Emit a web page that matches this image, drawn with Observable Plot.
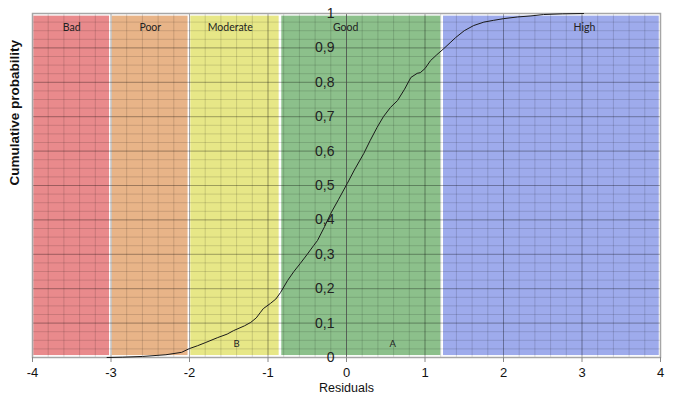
<!DOCTYPE html>
<html>
<head>
<meta charset="utf-8">
<script src="https://cdn.jsdelivr.net/npm/d3@7"></script>
<script src="https://cdn.jsdelivr.net/npm/@observablehq/plot@0.6"></script>
<style>
  html, body { margin: 0; padding: 0; background: #fff; }
</style>
</head>
<body>
<div id="chart"></div>
<script>
// Quality classes (residual intervals)
const bandNames  = ["Bad", "Poor", "Moderate", "Good", "High"];
const bandStart  = [-4, -3, -2, -0.84, 1.22];
const bandEnd    = [-3, -2, -0.84, 1.22, 4];
const bandColors = ["#e98a8c", "#e8b488", "#e7e787", "#8cc08b", "#9eabec"];
const bandLabelX = [-3.5, -2.5, -1.48, -0.01, 3.03];

const resid = [-3.05, -2.85, -2.6, -2.3, -2.1, -2.0, -1.9, -1.8, -1.64, -1.52, -1.44, -1.3, -1.22, -1.15, -1.1, -1.06, -0.97, -0.9, -0.84, -0.75, -0.67, -0.59, -0.5, -0.42, -0.37, -0.28, -0.2, -0.1, 0.01, 0.1, 0.22, 0.3, 0.39, 0.47, 0.56, 0.65, 0.74, 0.82, 0.9, 0.94, 1.0, 1.07, 1.15, 1.24, 1.32, 1.39, 1.5, 1.62, 1.75, 1.87, 2.0, 2.18, 2.35, 2.51, 2.75, 3.02];
const cumProb = [0.0, 0.001, 0.003, 0.008, 0.015, 0.026, 0.034, 0.043, 0.058, 0.068, 0.078, 0.092, 0.102, 0.115, 0.13, 0.142, 0.157, 0.17, 0.189, 0.224, 0.25, 0.273, 0.3, 0.325, 0.34, 0.38, 0.419, 0.46, 0.506, 0.545, 0.593, 0.63, 0.669, 0.7, 0.727, 0.747, 0.78, 0.814, 0.826, 0.828, 0.84, 0.863, 0.88, 0.898, 0.915, 0.93, 0.95, 0.965, 0.975, 0.98, 0.985, 0.99, 0.993, 0.997, 0.999, 1.0];

// Axis ticks and labels
const xTicks = [-4, -3, -2, -1, 0, 1, 2, 3, 4];
const yTicks = [0, 0.1, 0.2, 0.3, 0.4, 0.5, 0.6, 0.7, 0.8, 0.9, 1];
const xMinorGrid = d3.range(-40, 41, 2).map(d => d / 10);     // every 0.2
const yMinorGrid = d3.range(0, 41).map(d => d / 40);           // every 0.025
const pointLabels = [{x: -1.4, y: 0.038, t: "B"}, {x: 0.59, y: 0.04, t: "A"}];

const bands = bandNames.map((n, i) => ({name: n, x1: bandStart[i], x2: bandEnd[i], color: bandColors[i], lx: bandLabelX[i]}));
const curve = resid.map((r, i) => ({x: r, y: cumProb[i]}));
const fmt = d => String(d).replace(".", ",");

const chart = Plot.plot({
  width: 678,
  height: 398,
  marginLeft: 32,
  marginRight: 18,
  marginTop: 13,
  marginBottom: 41,
  style: {fontFamily: "'Liberation Sans', Arial, sans-serif", background: "#fff", overflow: "visible"},
  x: {domain: [-4, 4], axis: null},
  y: {domain: [0, 1], axis: null},
  marks: [
    Plot.rectY(bands, {x1: "x1", x2: "x2", y1: 0.002, y2: 0.996, fill: "color", stroke: "#fff", strokeWidth: 2.5}),
    Plot.ruleX(xMinorGrid, {stroke: "#000", strokeOpacity: 0.14, strokeWidth: 1}),
    Plot.ruleY(yMinorGrid, {stroke: "#000", strokeOpacity: 0.13, strokeWidth: 1}),
    Plot.ruleX(xTicks, {stroke: "#000", strokeOpacity: 0.24, strokeWidth: 1}),
    Plot.ruleY(yTicks, {stroke: "#000", strokeOpacity: 0.22, strokeWidth: 1}),
    Plot.ruleX([0], {stroke: "#555", strokeOpacity: 0.7, strokeWidth: 1}),
    Plot.frame({stroke: "#a6a6a6", strokeWidth: 1.5}),
    Plot.axisX({ticks: xTicks, tickSize: 5, tickFormat: () => "", stroke: "#888", label: null}),
    Plot.line(curve, {x: "x", y: "y", stroke: "#1a1a1a", strokeWidth: 1}),
    Plot.text(bands, {x: "lx", y: 0.958, text: "name", fontSize: 10.5, fill: "#222", fontFamily: "Lato, 'Open Sans', sans-serif"}),
    Plot.text(pointLabels, {x: "x", y: "y", text: "t", fontSize: 9.5, fill: "#222", fontFamily: "Lato, sans-serif"}),
    Plot.text(yTicks, {x: 0, y: d => d, text: fmt, textAnchor: "end", dx: -12, fontSize: 14, fill: "#222"}),
    Plot.text(xTicks, {x: d => d, y: 0, text: d => String(d), dy: 15.5, fontSize: 13, fill: "#111"}),
    Plot.text(["Residuals"], {frameAnchor: "bottom", dy: 34, fontSize: 12.5, fill: "#111"}),
    Plot.text(["Cumulative probability"], {frameAnchor: "left", dx: -18, rotate: -90, fontSize: 13.5, fontWeight: "bold", fill: "#111"})
  ]
});
document.getElementById("chart").appendChild(chart);
</script>
</body>
</html>
